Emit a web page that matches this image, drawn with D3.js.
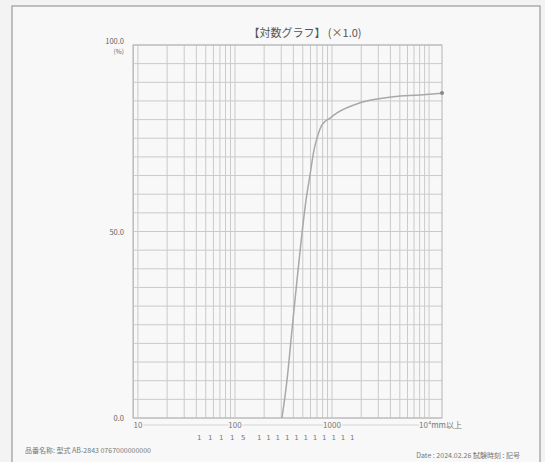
<!DOCTYPE html>
<html><head><meta charset="utf-8">
<script src="https://cdn.jsdelivr.net/npm/d3@7"></script>
<style>body{margin:0;background:#f3f3f3;}svg{display:block;}</style>
</head><body>
<svg id="c" width="545" height="462"></svg>
<script>
const titleText = "【対数グラフ】 (×1.0)";
const sizes = [305, 344, 387, 436, 491, 540, 593, 652, 717, 788, 953, 1127, 1945, 4256, 8070, 13600];
const cumPct = [0, 10.2, 23.6, 37.0, 49.6, 58.4, 65.1, 71.8, 75.9, 78.6, 80.4, 81.8, 84.5, 86.1, 86.6, 87.1];
const xDomain = [8.9, 13600];
const xTicks = [10, 100, 1000, 10000];
const xTickLabels = ["10", "100", "1000", "10⁴mm以上"];
const yTicks = [0, 50, 100];
const yTickLabels = ["0.0", "50.0", "100.0"];
const minorLabelsA = ["1", "1", "1", "1", "5"];
const minorLabelsB = ["1", "1", "1", "1", "1", "1", "1", "1", "1", "1", "1"];
const footLeft = "品番名称: 型式 AB-2843 0767000000000";
const footRight = "Date : 2024.02.26  試験時刻 : 記号";

const svg = d3.select("#c");
svg.append("rect").attr("x", 12).attr("y", 6).attr("width", 528).attr("height", 460)
  .attr("fill", "#f8f8f8").attr("stroke", "#9a9a9a").attr("stroke-width", 1.2);

const L = 133, R = 442, T = 45, B = 418;
const x = d3.scaleLog().domain(xDomain).range([L, R]);
const y = d3.scaleLinear().domain([0, 100]).range([B, T]);

const g = svg.append("g");
const vgrid = [];
for (let d = 1; d <= 10000; d *= 10) for (let m = 1; m < 10; m++) {
  const v = d * m; if (v >= xDomain[0] && v <= xDomain[1]) vgrid.push(v);
}
g.selectAll(".vg").data(vgrid).join("line")
  .attr("x1", d => x(d)).attr("x2", d => x(d)).attr("y1", T).attr("y2", B)
  .attr("stroke", "#cacaca").attr("stroke-width", 1);
g.selectAll(".hg").data(d3.range(0, 101, 5)).join("line")
  .attr("x1", L).attr("x2", R).attr("y1", d => y(d)).attr("y2", d => y(d))
  .attr("stroke", "#cacaca").attr("stroke-width", 1);
g.append("rect").attr("x", L).attr("y", T).attr("width", R - L).attr("height", B - T)
  .attr("fill", "none").attr("stroke", "#b4b4b4");

const line = d3.line().x((d, i) => x(sizes[i])).y(d => y(d)).curve(d3.curveMonotoneX);
g.append("path").datum(cumPct).attr("d", line).attr("fill", "none")
  .attr("stroke", "#a8a8a8").attr("stroke-width", 1.5);
g.append("circle").attr("cx", x(sizes[sizes.length - 1])).attr("cy", y(cumPct[cumPct.length - 1]))
  .attr("r", 2).attr("fill", "#888");

const yl = svg.append("g").attr("font-family", "Noto Sans CJK JP, sans-serif").attr("font-size", 7.5).attr("fill", "#666");
yTicks.forEach((t, i) => {
  yl.append("text").attr("x", 124).attr("y", t === 100 ? y(t) - 1 : y(t) + 3).attr("text-anchor", "end").text(yTickLabels[i]);
});
yl.append("text").attr("x", 124).attr("y", y(100) + 9).attr("text-anchor", "end").attr("font-size", 6.5).text("(%)");

svg.append("line").attr("x1", L).attr("x2", R).attr("y1", 425).attr("y2", 425).attr("stroke", "#d4d4d4");
const xl = svg.append("g").attr("font-family", "Noto Sans CJK JP, sans-serif").attr("font-size", 8).attr("fill", "#777");
xTicks.forEach((t, i) => {
  xl.append("text").attr("x", x(t) + (i === 3 ? -10 : 0)).attr("y", 428).attr("text-anchor", i === 3 ? "start" : "middle")
    .attr("fill", "#777").attr("stroke", "#f8f8f8").attr("stroke-width", 3).attr("paint-order", "stroke").text(xTickLabels[i]);
});
const ml = svg.append("g").attr("font-family", "DejaVu Sans, sans-serif").attr("font-size", 7).attr("fill", "#777");
minorLabelsA.forEach((t, i) => ml.append("text").attr("x", 197 + i * 11).attr("y", 440).text(t));
minorLabelsB.forEach((t, i) => ml.append("text").attr("x", 257 + i * 9.3).attr("y", 440).text(t));

svg.append("text").attr("x", 305).attr("y", 37).attr("text-anchor", "middle")
  .attr("font-family", "Noto Sans CJK JP, sans-serif").attr("font-size", 11).attr("fill", "#555").text(titleText);
svg.append("text").attr("x", 25).attr("y", 453).attr("font-family", "Noto Sans CJK JP, sans-serif")
  .attr("font-size", 7).attr("fill", "#777").text(footLeft);
svg.append("text").attr("x", 520).attr("y", 458).attr("text-anchor", "end").attr("font-family", "Noto Sans CJK JP, sans-serif")
  .attr("font-size", 7).attr("fill", "#777").text(footRight);
</script>
</body></html>
